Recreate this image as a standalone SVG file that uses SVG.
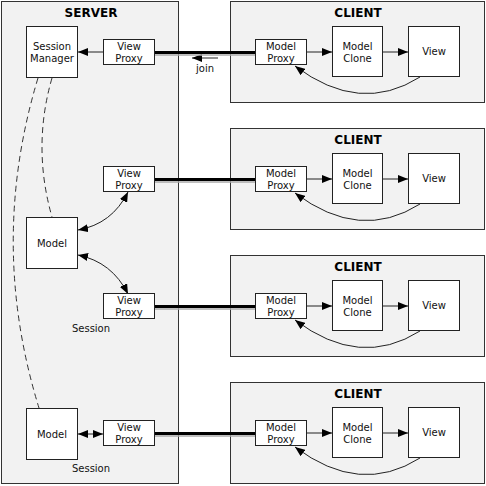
<svg xmlns="http://www.w3.org/2000/svg" width="486" height="486" viewBox="0 0 486 486">
<defs>
<marker id="ah" viewBox="0 0 10 8" refX="10" refY="4" markerWidth="10" markerHeight="8" markerUnits="userSpaceOnUse" orient="auto-start-reverse">
<path d="M0,0 L10,4 L0,8 Z" fill="#000"/>
</marker>
</defs>
<style>
.panel{fill:#f2f2f2;stroke:#333;stroke-width:1}
.box{fill:#fff;stroke:#222;stroke-width:1}
.t{font-family:"DejaVu Sans",sans-serif;font-size:10px;fill:#111;text-anchor:middle}
.title{font-family:"DejaVu Sans",sans-serif;font-size:12px;font-weight:bold;fill:#000;text-anchor:middle}
.a{fill:none;stroke:#222;stroke-width:1}
.thick{fill:none;stroke:#000;stroke-width:3}
.shadow{fill:none;stroke:#aaa;stroke-width:1.5}
.dash{fill:none;stroke:#333;stroke-width:1;stroke-dasharray:6 4}
</style>

<g id="server">
<rect class="panel" x="1.5" y="1.5" width="177" height="482"/>
<text class="title" x="91" y="17">SERVER</text>
<text class="t" x="91" y="332">Session</text>
<text class="t" x="91" y="472">Session</text>
</g>

<g id="client1"><rect class="panel" x="230.5" y="1.5" width="254" height="101"/><text class="title" x="358" y="17">CLIENT</text></g>
<g id="client2"><rect class="panel" x="230.5" y="128.5" width="254" height="101"/><text class="title" x="358" y="144">CLIENT</text></g>
<g id="client3"><rect class="panel" x="230.5" y="255.5" width="254" height="101"/><text class="title" x="358" y="271">CLIENT</text></g>
<g id="client4"><rect class="panel" x="230.5" y="382.5" width="254" height="101"/><text class="title" x="358" y="398">CLIENT</text></g>

<g id="connectors">
<path class="a" d="M103,52 L78,52" marker-end="url(#ah)"/>
<path class="a" d="M218,58 L192,58" marker-end="url(#ah)"/>
<text class="t" x="205" y="72">join</text>
<path class="dash" d="M38,78 Q-12,243 39,408"/>
<path class="dash" d="M52,78 Q32,147 52,217"/>
<path class="a" d="M78,230 Q112,224 128,192" marker-start="url(#ah)" marker-end="url(#ah)"/>
<path class="a" d="M78,255 Q112,262 128,294" marker-start="url(#ah)" marker-end="url(#ah)"/>
<path class="a" d="M78,434 L103,434" marker-start="url(#ah)" marker-end="url(#ah)"/>
<g id="links">
<path class="shadow" d="M155,55 L255,55"/><path class="thick" d="M155,52.5 L255,52.5"/>
<path class="shadow" d="M155,182 L255,182"/><path class="thick" d="M155,179.5 L255,179.5"/>
<path class="shadow" d="M155,309 L255,309"/><path class="thick" d="M155,306.5 L255,306.5"/>
<path class="shadow" d="M155,436 L255,436"/><path class="thick" d="M155,433.5 L255,433.5"/>
</g>
<g id="client-arrows">
<path class="a" d="M307,52 L332,52" marker-end="url(#ah)"/>
<path class="a" d="M383,52 L408,52" marker-end="url(#ah)"/>
<path class="a" d="M420,77 Q360,115 295,66" marker-end="url(#ah)"/>
<path class="a" d="M307,179 L332,179" marker-end="url(#ah)"/>
<path class="a" d="M383,179 L408,179" marker-end="url(#ah)"/>
<path class="a" d="M420,204 Q360,242 295,193" marker-end="url(#ah)"/>
<path class="a" d="M307,306 L332,306" marker-end="url(#ah)"/>
<path class="a" d="M383,306 L408,306" marker-end="url(#ah)"/>
<path class="a" d="M420,331 Q360,369 295,320" marker-end="url(#ah)"/>
<path class="a" d="M307,433 L332,433" marker-end="url(#ah)"/>
<path class="a" d="M383,433 L408,433" marker-end="url(#ah)"/>
<path class="a" d="M420,458 Q360,496 295,447" marker-end="url(#ah)"/>
</g>
</g>

<g id="session-manager"><rect class="box" x="26.5" y="26.5" width="51" height="51"/><text class="t" x="52" y="49.5">Session</text><text class="t" x="52" y="61.5">Manager</text></g>
<g id="model1"><rect class="box" x="26.5" y="217.5" width="51" height="51"/><text class="t" x="52" y="246.5">Model</text></g>
<g id="model2"><rect class="box" x="26.5" y="408.5" width="51" height="51"/><text class="t" x="52" y="437.5">Model</text></g>

<g id="view-proxy1"><rect class="box" x="103.5" y="39.5" width="51" height="25"/><text class="t" x="129" y="49.5">View</text><text class="t" x="129" y="61.5">Proxy</text></g>
<g id="view-proxy2"><rect class="box" x="103.5" y="166.5" width="51" height="25"/><text class="t" x="129" y="176.5">View</text><text class="t" x="129" y="188.5">Proxy</text></g>
<g id="view-proxy3"><rect class="box" x="103.5" y="293.5" width="51" height="25"/><text class="t" x="129" y="303.5">View</text><text class="t" x="129" y="315.5">Proxy</text></g>
<g id="view-proxy4"><rect class="box" x="103.5" y="420.5" width="51" height="25"/><text class="t" x="129" y="430.5">View</text><text class="t" x="129" y="442.5">Proxy</text></g>

<g id="model-proxy1"><rect class="box" x="255.5" y="39.5" width="51" height="25"/><text class="t" x="281" y="49.5">Model</text><text class="t" x="281" y="61.5">Proxy</text></g>
<g id="model-clone1"><rect class="box" x="332.5" y="26.5" width="50" height="50"/><text class="t" x="357.5" y="49.5">Model</text><text class="t" x="357.5" y="61.5">Clone</text></g>
<g id="view1"><rect class="box" x="408.5" y="26.5" width="51" height="50"/><text class="t" x="434" y="55">View</text></g>

<g id="model-proxy2"><rect class="box" x="255.5" y="166.5" width="51" height="25"/><text class="t" x="281" y="176.5">Model</text><text class="t" x="281" y="188.5">Proxy</text></g>
<g id="model-clone2"><rect class="box" x="332.5" y="153.5" width="50" height="50"/><text class="t" x="357.5" y="176.5">Model</text><text class="t" x="357.5" y="188.5">Clone</text></g>
<g id="view2"><rect class="box" x="408.5" y="153.5" width="51" height="50"/><text class="t" x="434" y="182">View</text></g>

<g id="model-proxy3"><rect class="box" x="255.5" y="293.5" width="51" height="25"/><text class="t" x="281" y="303.5">Model</text><text class="t" x="281" y="315.5">Proxy</text></g>
<g id="model-clone3"><rect class="box" x="332.5" y="280.5" width="50" height="50"/><text class="t" x="357.5" y="303.5">Model</text><text class="t" x="357.5" y="315.5">Clone</text></g>
<g id="view3"><rect class="box" x="408.5" y="280.5" width="51" height="50"/><text class="t" x="434" y="309">View</text></g>

<g id="model-proxy4"><rect class="box" x="255.5" y="420.5" width="51" height="25"/><text class="t" x="281" y="430.5">Model</text><text class="t" x="281" y="442.5">Proxy</text></g>
<g id="model-clone4"><rect class="box" x="332.5" y="407.5" width="50" height="50"/><text class="t" x="357.5" y="430.5">Model</text><text class="t" x="357.5" y="442.5">Clone</text></g>
<g id="view4"><rect class="box" x="408.5" y="407.5" width="51" height="50"/><text class="t" x="434" y="436">View</text></g>
</svg>
